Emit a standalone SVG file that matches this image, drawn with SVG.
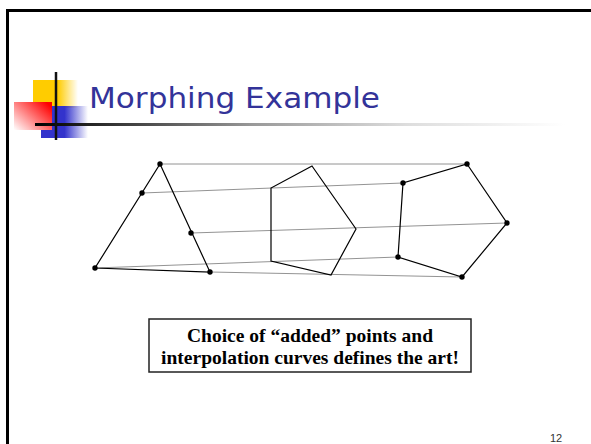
<svg xmlns="http://www.w3.org/2000/svg" width="591" height="444" viewBox="0 0 591 444">
<style>
.frame{stroke:#000;stroke-width:3;fill:none}
.shape{fill:none;stroke:#000;stroke-width:1.2;stroke-linejoin:miter}
.conn{stroke:#777;stroke-width:0.8;fill:none}
.dot{fill:#000}
.title{font-family:"DejaVu Sans",sans-serif;font-size:29px;fill:#333399}
.note{font-family:"Liberation Serif",serif;font-weight:bold;font-size:19.5px;fill:#000;text-anchor:middle}
.pg{font-family:"Liberation Sans",sans-serif;font-size:11px;fill:#333}
</style>
<defs>
<linearGradient id="gUnder" gradientUnits="userSpaceOnUse" x1="35" y1="0" x2="565" y2="0">
<stop offset="0" stop-color="#000"/>
<stop offset="0.1" stop-color="#222"/>
<stop offset="0.41" stop-color="#999"/>
<stop offset="0.7" stop-color="#ddd"/>
<stop offset="1" stop-color="#fff"/>
</linearGradient>
<linearGradient id="gYel" x1="0" y1="0" x2="1" y2="0">
<stop offset="0" stop-color="#ffcc00"/>
<stop offset="0.55" stop-color="#ffcc00"/>
<stop offset="1" stop-color="#ffcc00" stop-opacity="0"/>
</linearGradient>
<linearGradient id="gBlue" x1="0" y1="0" x2="1" y2="0">
<stop offset="0" stop-color="#3333cc"/>
<stop offset="0.5" stop-color="#3333cc"/>
<stop offset="1" stop-color="#3333cc" stop-opacity="0"/>
</linearGradient>
<linearGradient id="gRed" x1="0" y1="1" x2="1" y2="0.2">
<stop offset="0" stop-color="#fff"/>
<stop offset="1" stop-color="#ff0000"/>
</linearGradient>
</defs>
<rect width="591" height="444" fill="#fff"/>
<g id="frame">
<line class="frame" x1="6" y1="10.5" x2="591" y2="10.5"/>
<line class="frame" x1="7.5" y1="9" x2="7.5" y2="444"/>
</g>
<g id="logo">
<rect x="33" y="80" width="45" height="28" fill="url(#gYel)"/>
<rect x="41" y="106" width="47" height="32" fill="url(#gBlue)"/>
<rect x="14" y="102" width="38" height="28" fill="url(#gRed)"/>
<rect x="35" y="123" width="530" height="3" fill="url(#gUnder)"/>
<line x1="56" y1="72" x2="56" y2="140" stroke="#111" stroke-width="2.5"/>
</g>
<g id="title">
<text class="title" x="89" y="108" textLength="291" lengthAdjust="spacingAndGlyphs">Morphing Example</text>
</g>
<g id="connectors">
<line class="conn" x1="160" y1="164" x2="467" y2="164"/>
<line class="conn" x1="142" y1="193" x2="403" y2="183"/>
<line class="conn" x1="191" y1="233" x2="507" y2="223"/>
<line class="conn" x1="95" y1="268" x2="398" y2="257"/>
<line class="conn" x1="210" y1="272" x2="462" y2="277"/>
</g>
<g id="triangle">
<polygon class="shape" points="160,164 210,272 95,268"/>
<circle class="dot" cx="160" cy="164" r="2.7"/>
<circle class="dot" cx="142" cy="193" r="2.7"/>
<circle class="dot" cx="191" cy="233" r="2.7"/>
<circle class="dot" cx="95" cy="268" r="2.7"/>
<circle class="dot" cx="210" cy="272" r="2.7"/>
</g>
<g id="pentagon-mid">
<polygon class="shape" points="312,166 356,229 331,275 271,261 271,188"/>
</g>
<g id="pentagon-right">
<polygon class="shape" points="467,164 507,223 462,277 398,257 403,183"/>
<circle class="dot" cx="467" cy="164" r="2.7"/>
<circle class="dot" cx="507" cy="223" r="2.7"/>
<circle class="dot" cx="462" cy="277" r="2.7"/>
<circle class="dot" cx="398" cy="257" r="2.7"/>
<circle class="dot" cx="403" cy="183" r="2.7"/>
</g>
<g id="note">
<rect x="149" y="319" width="322" height="53" fill="#fff" stroke="#222" stroke-width="1.5"/>
<text class="note" x="310" y="342">Choice of “added” points and</text>
<text class="note" x="310" y="364">interpolation curves defines the art!</text>
</g>
<g id="page-number">
<text class="pg" x="550" y="442">12</text>
</g>
</svg>
